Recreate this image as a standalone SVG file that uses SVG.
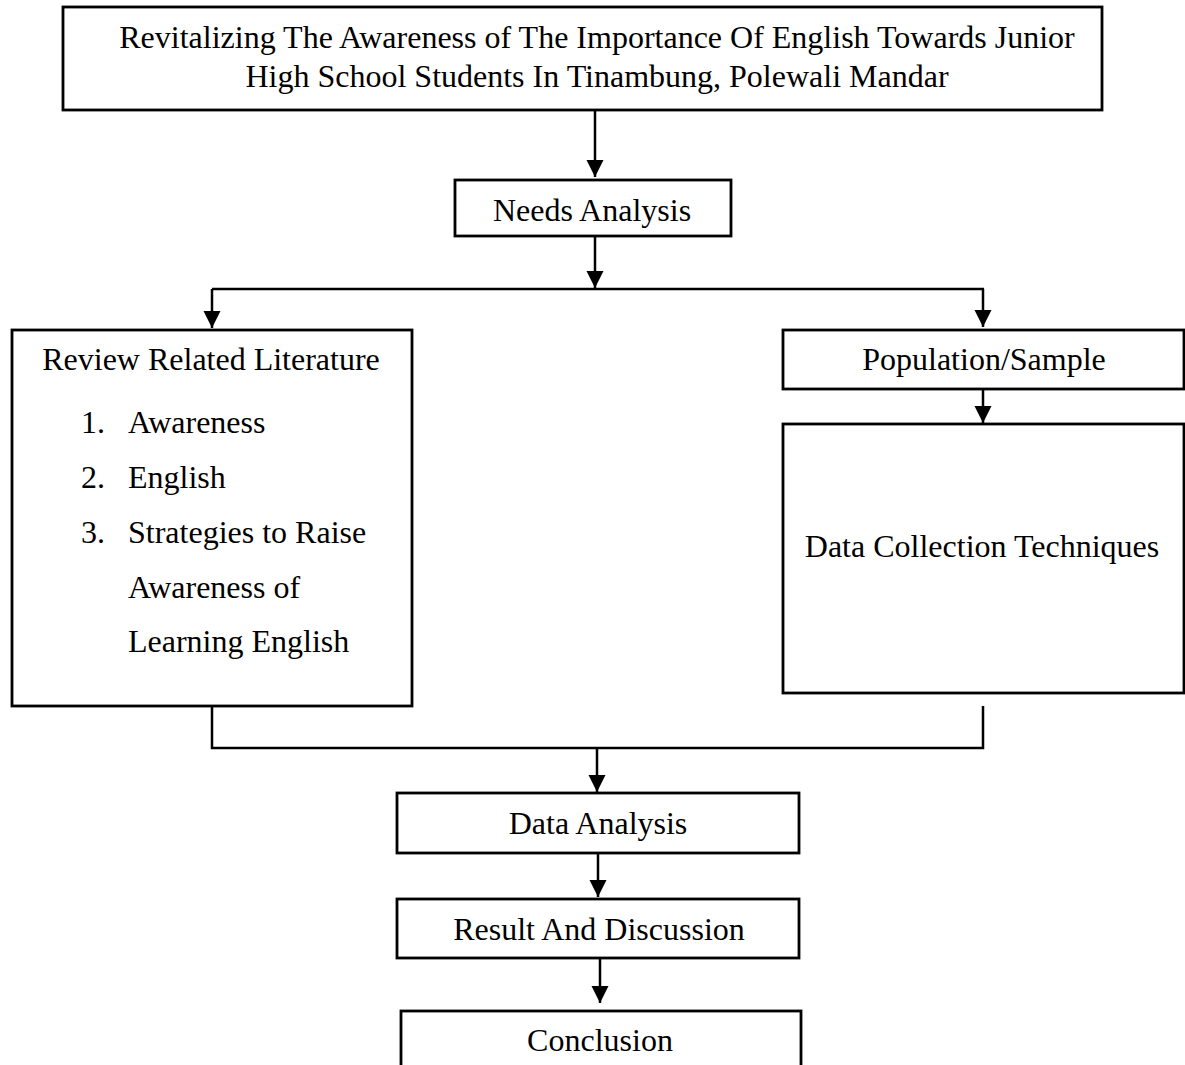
<svg xmlns="http://www.w3.org/2000/svg" width="1185" height="1065" viewBox="0 0 1185 1065">
<defs>
<style>
.box{fill:#fff;stroke:#000;stroke-width:2.8}
.t{font-family:"Liberation Serif","Times New Roman",serif;font-size:32px;fill:#000}
.c{text-anchor:middle}
.ln{fill:none;stroke:#000;stroke-width:2.5}
</style>
<marker id="ad" markerUnits="userSpaceOnUse" markerWidth="18" markerHeight="18" viewBox="0 0 18 18" refX="17" refY="9" orient="auto">
<path d="M0,0.5 L17,9 L0,17.5 Z" fill="#000"/>
</marker>
</defs>
<rect width="1185" height="1065" fill="#fff"/>
<g id="connectors">
<path class="ln" d="M595,110 V177" marker-end="url(#ad)"/>
<path class="ln" d="M595,234 V288" marker-end="url(#ad)"/>
<path class="ln" d="M212,289 H984"/>
<path class="ln" d="M212,289 V328" marker-end="url(#ad)"/>
<path class="ln" d="M983,289 V327" marker-end="url(#ad)"/>
<path class="ln" d="M983,389 V423" marker-end="url(#ad)"/>
<path class="ln" d="M212,706 V748 H983 V706"/>
<path class="ln" d="M597,748 V792" marker-end="url(#ad)"/>
<path class="ln" d="M598,853 V897" marker-end="url(#ad)"/>
<path class="ln" d="M600,958 V1003" marker-end="url(#ad)"/>
</g>
<g id="title">
<rect class="box" x="63" y="7" width="1039" height="103"/>
<text class="t c" x="597" y="48">Revitalizing The Awareness of The Importance Of English Towards Junior</text>
<text class="t c" x="597" y="87">High School Students In Tinambung, Polewali Mandar</text>
</g>
<g id="needs">
<rect class="box" x="455" y="180" width="276" height="56"/>
<text class="t c" x="592" y="221">Needs Analysis</text>
</g>
<g id="review">
<rect class="box" x="12" y="330" width="400" height="376"/>
<text class="t c" x="211" y="370">Review Related Literature</text>
<text class="t" x="81" y="433">1.</text>
<text class="t" x="128" y="433">Awareness</text>
<text class="t" x="81" y="488">2.</text>
<text class="t" x="128" y="488">English</text>
<text class="t" x="81" y="543">3.</text>
<text class="t" x="128" y="543">Strategies to Raise</text>
<text class="t" x="128" y="598">Awareness of</text>
<text class="t" x="128" y="652">Learning English</text>
</g>
<g id="population">
<rect class="box" x="783" y="330" width="401" height="59"/>
<text class="t c" x="984" y="370">Population/Sample</text>
</g>
<g id="datacollection">
<rect class="box" x="783" y="424" width="401" height="269"/>
<text class="t c" x="982" y="557">Data Collection Techniques</text>
</g>
<g id="dataanalysis">
<rect class="box" x="397" y="793" width="402" height="60"/>
<text class="t c" x="598" y="834">Data Analysis</text>
</g>
<g id="result">
<rect class="box" x="397" y="899" width="402" height="59"/>
<text class="t c" x="599" y="940">Result And Discussion</text>
</g>
<g id="conclusion">
<rect class="box" x="401" y="1011" width="400" height="80"/>
<text class="t c" x="600" y="1051">Conclusion</text>
</g>
</svg>
